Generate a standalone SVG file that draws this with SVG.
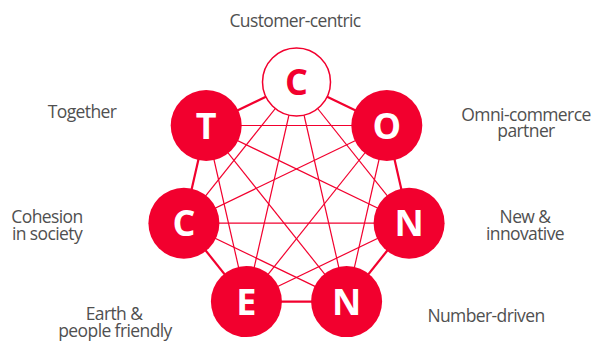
<svg xmlns="http://www.w3.org/2000/svg" width="598" height="342" viewBox="0 0 598 342">
<style>
.lbl{font-family:"Open Sans","Noto Sans","Liberation Sans",sans-serif;font-size:17.5px;fill:#505050;text-anchor:middle;letter-spacing:-0.6px}
.let{font-family:"Open Sans","Noto Sans","Liberation Sans",sans-serif;font-size:36px;font-weight:bold;text-anchor:middle}
.nd{fill:#F2002E}
.per{stroke:#F2002E;stroke-width:2.2;fill:none}
.dia{stroke:#F2002E;stroke-width:1.2;fill:none}
</style>
<rect width="598" height="342" fill="#fff"/>
<g id="connectors">
<line class="per" x1="296.5" y1="82" x2="386.8" y2="125.5"/>
<line class="per" x1="386.8" y1="125.5" x2="409.1" y2="223.2"/>
<line class="per" x1="409.1" y1="223.2" x2="346.6" y2="301.6"/>
<line class="per" x1="346.6" y1="301.6" x2="246.4" y2="301.6"/>
<line class="per" x1="246.4" y1="301.6" x2="183.9" y2="223.2"/>
<line class="per" x1="183.9" y1="223.2" x2="206.2" y2="125.5"/>
<line class="per" x1="206.2" y1="125.5" x2="296.5" y2="82"/>
<line class="dia" x1="296.5" y1="82" x2="409.1" y2="223.2"/>
<line class="dia" x1="296.5" y1="82" x2="346.6" y2="301.6"/>
<line class="dia" x1="296.5" y1="82" x2="246.4" y2="301.6"/>
<line class="dia" x1="296.5" y1="82" x2="183.9" y2="223.2"/>
<line class="dia" x1="386.8" y1="125.5" x2="346.6" y2="301.6"/>
<line class="dia" x1="386.8" y1="125.5" x2="246.4" y2="301.6"/>
<line class="dia" x1="386.8" y1="125.5" x2="183.9" y2="223.2"/>
<line class="dia" x1="386.8" y1="125.5" x2="206.2" y2="125.5"/>
<line class="dia" x1="409.1" y1="223.2" x2="246.4" y2="301.6"/>
<line class="dia" x1="409.1" y1="223.2" x2="183.9" y2="223.2"/>
<line class="dia" x1="409.1" y1="223.2" x2="206.2" y2="125.5"/>
<line class="dia" x1="346.6" y1="301.6" x2="183.9" y2="223.2"/>
<line class="dia" x1="346.6" y1="301.6" x2="206.2" y2="125.5"/>
<line class="dia" x1="246.4" y1="301.6" x2="206.2" y2="125.5"/>
</g>
<g id="node-customer">
<circle cx="296.5" cy="82" r="34" fill="#fff" stroke="#F2002E" stroke-width="1.5"/>
<text class="let" x="296.5" y="95" fill="#F2002E">C</text>
<text class="lbl" x="295" y="27">Customer-centric</text>
</g>
<g id="node-omni">
<circle class="nd" cx="386.8" cy="125.5" r="35.5"/>
<text class="let" x="386.8" y="138.5" fill="#fff">O</text>
<text class="lbl" x="526" y="121">Omni-commerce</text>
<text class="lbl" x="526" y="137">partner</text>
</g>
<g id="node-new">
<circle class="nd" cx="409.1" cy="223.2" r="35.5"/>
<text class="let" x="409.1" y="236.2" fill="#fff">N</text>
<text class="lbl" x="525" y="223">New &amp;</text>
<text class="lbl" x="525" y="240">innovative</text>
</g>
<g id="node-number">
<circle class="nd" cx="346.6" cy="301.6" r="35.5"/>
<text class="let" x="346.6" y="314.6" fill="#fff">N</text>
<text class="lbl" x="486" y="322">Number-driven</text>
</g>
<g id="node-earth">
<circle class="nd" cx="246.4" cy="301.6" r="35.5"/>
<text class="let" x="246.4" y="314.6" fill="#fff">E</text>
<text class="lbl" x="114" y="320">Earth &amp;</text>
<text class="lbl" x="115" y="337">people friendly</text>
</g>
<g id="node-cohesion">
<circle class="nd" cx="183.9" cy="223.2" r="35.5"/>
<text class="let" x="183.9" y="236.2" fill="#fff">C</text>
<text class="lbl" x="47" y="223">Cohesion</text>
<text class="lbl" x="47" y="240">in society</text>
</g>
<g id="node-together">
<circle class="nd" cx="206.2" cy="125.5" r="35.5"/>
<text class="let" x="206.2" y="138.5" fill="#fff">T</text>
<text class="lbl" x="82" y="118">Together</text>
</g>
</svg>
